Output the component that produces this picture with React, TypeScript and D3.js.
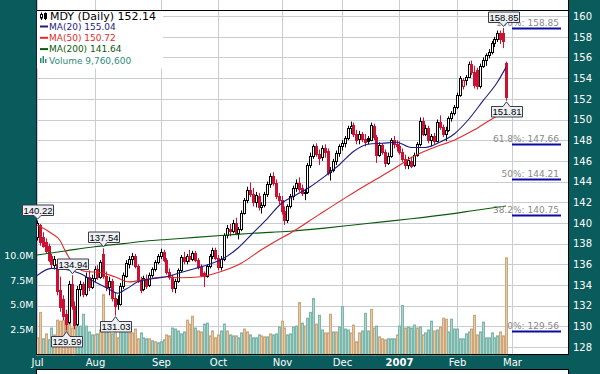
import React from "react";
import * as d3 from "d3";

// ---------- DATA ----------
// [open, high, low, close] per trading day
const julCandles = [
  [138.6, 140.22, 138.3, 140.0], [139.8, 139.9, 137.8, 138.2], [138.6, 139.1, 137.6, 137.8],
  [138.2, 138.5, 137.0, 137.3], [137.8, 138.0, 136.2, 136.4], [136.8, 137.0, 135.6, 136.0],
  [135.9, 136.8, 135.5, 136.5], [136.0, 136.2, 133.0, 133.4], [133.5, 134.8, 131.4, 131.9],
  [132.6, 133.0, 130.6, 131.0], [131.2, 131.6, 129.59, 130.2], [130.4, 134.4, 130.2, 134.1],
  [134.1, 134.94, 131.6, 132.0], [132.0, 132.4, 129.7, 130.1], [130.2, 133.9, 130.0, 133.6],
  [133.6, 134.4, 132.9, 134.1], [134.1, 134.3, 132.8, 133.1], [133.1, 135.2, 132.9, 134.8],
  [134.8, 135.4, 133.4, 133.8], [133.8, 135.0, 133.6, 134.7],
];
const augCandles = [
  [134.7, 135.8, 134.3, 135.5], [135.5, 135.9, 134.5, 134.8], [134.8, 136.4, 134.6, 136.2],
  [137.0, 137.54, 134.6, 134.9], [134.9, 135.3, 133.4, 133.8], [133.8, 134.8, 133.0, 134.4],
  [134.4, 134.6, 132.4, 132.7], [132.7, 133.3, 131.03, 132.0], [132.6, 133.0, 131.6, 132.2],
  [132.2, 134.2, 132.0, 133.9], [133.9, 135.2, 133.6, 135.0], [134.9, 136.4, 134.7, 136.1],
  [136.0, 136.8, 135.6, 136.5], [136.5, 137.1, 135.9, 136.8], [136.8, 137.0, 135.6, 135.8],
  [135.8, 136.0, 134.2, 134.5], [134.5, 134.8, 133.2, 133.5], [133.6, 134.9, 133.4, 134.7],
  [134.6, 135.0, 133.6, 133.9], [134.0, 135.2, 133.8, 135.0], [135.0, 135.7, 134.7, 135.5],
  [135.5, 136.4, 135.3, 136.2], [136.2, 137.0, 136.0, 136.8],
];
const sepCandles = [
  [136.8, 137.5, 136.5, 137.2], [137.2, 137.4, 136.2, 136.4], [136.4, 136.6, 135.0, 135.3],
  [135.3, 135.6, 134.5, 134.8], [134.8, 135.0, 133.3, 133.7], [133.7, 134.6, 133.2, 134.4],
  [134.4, 135.6, 134.2, 135.4], [135.4, 136.9, 135.2, 136.7], [136.7, 137.2, 136.0, 136.3],
  [136.3, 137.0, 136.0, 136.8], [136.8, 137.4, 136.2, 136.5], [136.5, 137.3, 136.3, 137.1],
  [137.1, 137.3, 136.2, 136.4], [136.4, 136.6, 135.5, 135.7], [135.7, 136.0, 134.8, 135.0],
  [135.2, 135.3, 133.8, 134.9], [134.9, 136.0, 134.7, 135.8], [135.8, 137.0, 135.6, 136.8],
  [136.8, 137.6, 136.5, 137.4], [137.4, 137.6, 136.4, 136.6],
];
const octCandles = [
  [136.6, 136.9, 135.4, 135.7], [135.7, 136.8, 135.4, 136.5], [136.5, 139.0, 136.3, 138.8],
  [138.8, 139.8, 138.5, 139.5], [139.4, 139.9, 138.7, 139.2], [139.2, 140.3, 139.0, 140.0],
  [140.0, 140.5, 138.8, 139.0], [139.0, 139.6, 138.4, 139.4], [139.4, 141.2, 139.2, 141.0],
  [141.0, 142.4, 140.8, 142.2], [142.2, 143.5, 141.9, 143.2], [143.2, 143.9, 142.5, 142.8],
  [142.8, 143.4, 141.6, 142.0], [142.0, 143.0, 141.5, 142.7], [142.6, 142.9, 141.2, 141.5],
  [141.5, 142.0, 140.9, 141.7], [141.7, 143.0, 141.5, 142.8], [142.8, 144.0, 142.5, 143.8],
  [143.8, 144.8, 143.4, 144.5], [144.5, 144.9, 143.6, 143.9], [143.9, 144.2, 142.3, 142.6],
  [142.6, 142.9, 141.8, 142.2],
];
const novCandles = [
  [142.2, 142.6, 140.8, 141.2], [141.2, 141.6, 139.8, 140.3], [140.3, 141.8, 140.0, 141.6],
  [141.6, 142.8, 141.4, 142.6], [142.6, 143.6, 142.2, 143.4], [143.4, 144.2, 143.0, 143.9],
  [143.9, 144.4, 143.0, 143.3], [143.4, 143.7, 142.6, 142.9], [142.9, 143.3, 142.2, 143.0],
  [143.0, 145.8, 142.8, 145.6], [145.6, 146.8, 145.3, 146.5], [146.5, 147.6, 146.2, 147.4],
  [147.4, 147.7, 146.4, 146.7], [146.7, 147.1, 145.6, 146.3], [146.4, 147.5, 146.0, 147.2],
  [147.2, 147.6, 146.3, 146.9], [147.0, 147.2, 144.6, 144.8], [144.9, 145.4, 144.1, 145.1],
  [145.1, 146.2, 144.9, 146.0], [146.0, 147.0, 145.6, 146.8], [146.8, 147.6, 146.4, 147.4],
];
const decCandles = [
  [147.4, 148.0, 147.0, 147.7], [147.7, 148.4, 147.3, 148.2], [148.2, 149.4, 148.0, 149.2],
  [149.2, 149.8, 148.6, 149.4], [149.5, 149.7, 148.3, 148.6], [148.6, 149.0, 147.6, 148.0],
  [148.1, 148.9, 147.6, 148.6], [148.6, 148.8, 147.8, 148.1], [148.1, 148.6, 147.4, 147.8],
  [148.2, 148.4, 147.6, 147.9], [148.0, 149.7, 147.9, 149.5], [149.4, 149.6, 148.0, 148.3],
  [148.3, 148.5, 145.8, 146.6], [146.6, 147.8, 146.4, 147.5], [147.5, 147.7, 146.6, 146.9],
  [146.9, 147.1, 145.4, 145.8], [145.8, 146.8, 145.6, 146.5], [146.5, 148.2, 146.3, 148.0],
  [148.0, 148.4, 147.2, 147.6], [147.6, 148.0, 146.9, 147.4],
];
const janCandles = [
  [147.4, 147.9, 146.6, 146.9], [146.9, 147.2, 145.9, 146.2], [146.2, 146.6, 145.2, 145.6],
  [145.6, 146.4, 145.2, 146.1], [146.0, 146.4, 145.3, 145.5], [145.6, 146.8, 145.4, 146.6],
  [146.6, 147.8, 146.4, 147.6], [147.6, 150.2, 147.4, 149.9], [149.9, 150.2, 148.4, 148.6],
  [148.6, 149.5, 148.4, 149.2], [149.2, 149.4, 147.7, 148.0], [148.0, 148.6, 147.4, 148.4],
  [148.4, 148.7, 147.6, 147.9], [147.9, 150.0, 147.8, 149.8], [149.8, 150.4, 149.0, 149.3],
  [149.3, 149.5, 148.3, 148.6], [148.6, 149.3, 147.9, 149.0], [149.0, 150.3, 148.8, 150.1],
  [150.1, 150.8, 149.8, 150.6], [150.6, 151.4, 150.4, 151.2],
];
const febCandles = [
  [151.2, 152.6, 151.0, 152.4], [152.4, 154.2, 152.2, 154.0], [153.2, 154.0, 152.9, 153.8],
  [153.8, 154.3, 153.3, 154.1], [154.1, 155.6, 154.0, 155.4], [155.4, 155.7, 154.3, 154.6],
  [154.6, 155.2, 153.0, 153.3], [154.8, 155.0, 152.9, 153.2], [153.2, 155.4, 153.0, 155.2],
  [155.2, 156.0, 155.0, 155.8], [155.8, 156.4, 155.2, 156.2], [156.2, 156.8, 155.9, 156.5],
  [156.5, 157.6, 156.3, 157.4], [157.4, 158.0, 157.0, 157.8], [157.8, 158.6, 157.5, 158.4],
  [158.4, 158.6, 157.3, 157.8], [158.4, 158.85, 156.9, 157.6], [155.5, 155.6, 151.81, 152.14],
];

// volume in millions, and bar colour (g = green, t = tan)
const julVol = [1.6, 4.2, 1.5, 2.0, 1.4, 2.6, 1.9, 3.4, 3.3, 3.4, 3.3, 3.2, 2.6, 3.6, 3.2, 2.8, 4.0, 2.8, 2.2, 1.9];
const julVolCol = "ttgtggttttttttgggggg";
const augVol = [1.9, 2.0, 2.4, 6.0, 2.5, 2.5, 2.0, 2.3, 1.6, 2.3, 2.4, 2.4, 2.1, 2.1, 2.5, 1.5, 2.1, 1.6, 1.5, 1.5, 1.3, 1.2, 1.1];
const augVolCol = "tgttgtgttgggttttgggtgtg";
const sepVol = [1.2, 1.4, 1.9, 1.8, 2.6, 2.5, 2.3, 2.0, 2.2, 3.4, 3.0, 3.8, 2.6, 2.3, 2.2, 3.0, 3.1, 1.8, 2.3, 1.6];
const sepVolCol = "ggttgggggtttgttggttt";
const octVol = [1.9, 2.3, 3.0, 2.3, 1.9, 1.8, 1.8, 1.6, 2.1, 2.5, 2.2, 1.9, 1.6, 1.6, 1.9, 1.8, 1.7, 1.7, 2.0, 1.9, 2.0, 2.7];
const octVolCol = "tggtggtggttggggttgtggg";
const novVol = [3.3, 2.6, 1.9, 2.0, 2.7, 2.8, 5.2, 3.1, 2.8, 3.6, 4.2, 5.6, 3.0, 3.9, 2.4, 2.1, 2.1, 4.0, 2.2, 2.2, 2.7];
const novVolCol = "ttggggtgtgggtggtttgtg";
const decVol = [4.8, 2.5, 2.4, 2.1, 2.9, 1.2, 2.1, 2.3, 4.1, 2.3, 4.5, 2.6, 2.8, 1.7, 1.5, 1.4, 1.5, 1.5, 1.5, 1.9];
const decVolCol = "gggttttgggttgtttgggt";
const janVol = [2.8, 4.9, 2.6, 2.7, 2.6, 2.9, 2.6, 2.7, 1.9, 2.1, 2.4, 3.3, 2.3, 2.4, 2.7, 3.6, 3.5, 2.2, 3.5, 2.5];
const janVolCol = "ggtgggtgtgggtgtttggg";
const febVol = [2.5, 1.5, 1.5, 2.0, 2.2, 2.5, 3.9, 1.9, 2.2, 3.2, 1.6, 1.6, 2.1, 1.6, 1.8, 2.2, 1.8, 9.76];
const febVolCol = "gggggtttgggggggttt";

// moving averages: [trading-day index, value]
const ma20Idx = [0, 5, 10, 15, 20, 25, 28, 31, 35, 40, 45, 50, 55, 60, 65, 70, 75, 80, 85, 90, 95, 100, 105, 110, 115, 120, 125, 130, 135, 140, 145, 150, 155, 160, 163];
const ma20Val = [134.9, 135.6, 135.5, 135.1, 134.3, 133.6, 133.2, 133.6, 134.3, 134.6, 134.8, 135.2, 135.6, 136.0, 136.6, 137.6, 139.0, 140.4, 141.9, 142.7, 143.5, 144.5, 145.6, 146.9, 147.6, 147.7, 147.8, 147.3, 147.3, 147.8, 148.6, 150.0, 151.8, 153.6, 155.04];
const ma50Idx = [0, 5, 8, 10, 13, 17, 22, 27, 32, 37, 45, 50, 57, 64, 71, 78, 84, 88, 98, 107, 114, 119, 125, 130, 138, 145, 152, 159, 163];
const ma50Val = [139.8, 139.0, 138.3, 137.2, 135.9, 135.3, 135.2, 134.8, 134.3, 134.5, 134.8, 134.7, 134.8, 135.3, 136.1, 137.4, 138.4, 139.0, 140.8, 142.4, 143.6, 144.4, 145.4, 146.3, 147.3, 148.0, 149.0, 150.2, 150.72];
const ma200Idx = [0, 10, 20, 30, 40, 45, 55, 65, 75, 88, 100, 110, 120, 130, 142, 152, 163];
const ma200Val = [136.9, 137.3, 137.7, 138.0, 138.3, 138.4, 138.6, 138.8, 139.0, 139.2, 139.5, 139.8, 140.1, 140.4, 140.8, 141.2, 141.64];

const monthLabels = ["Jul", "Aug", "Sep", "Oct", "Nov", "Dec", "2007", "Feb", "Mar"];
const monthStarts = [0, 20, 43, 63, 85, 106, 126, 146, 165];
const priceTicks = [128, 130, 132, 134, 136, 138, 140, 142, 144, 146, 148, 150, 152, 154, 156, 158, 160];
const volTicks = [2.5, 5, 7.5, 10];
const volTickLabels = ["2.5M", "5.0M", "7.5M", "10.0M"];

const fibLabels = ["100%", "61.8%", "50%", "38.2%", "0%"];
const fibValues = [158.85, 147.66, 144.21, 140.75, 129.56];

// callouts: day index, value, direction (down = points at a high, up = points at a low)
const calloutIdx = [0, 12, 10, 23, 27, 162, 163];
const calloutVal = [140.22, 134.94, 129.59, 137.54, 131.03, 158.85, 151.81];
const calloutDir = ["down", "down", "up", "down", "up", "down", "up"];

const legendTexts = ["MDY (Daily) 152.14", "MA(20) 155.04", "MA(50) 150.72", "MA(200) 141.64", "Volume 9,760,600"];

// ---------- STYLE ----------
const TEAL = "#0a5c5c";
const RED = "#cc1133";
const GRID = "#c9ccd6";
const C_MA20 = "#1c1c80";
const C_MA50 = "#e02a2a";
const C_MA200 = "#0a5a0a";
const C_VOLTXT = "#2f8a7a";
const FONT = "DejaVu Sans, Verdana, sans-serif";

export default function App() {
  const candles = [...julCandles, ...augCandles, ...sepCandles, ...octCandles, ...novCandles, ...decCandles, ...janCandles, ...febCandles];
  const volumes = [...julVol, ...augVol, ...sepVol, ...octVol, ...novVol, ...decVol, ...janVol, ...febVol];
  const volCols = (julVolCol + augVolCol + sepVolCol + octVolCol + novVolCol + decVolCol + janVolCol + febVolCol).split("");

  const x = d3.scaleLinear().domain([0, 165]).range([37, 511.7]);
  const y = d3.scaleLinear().domain([128, 160]).range([347, 16.1]);
  const yv = d3.scaleLinear().domain([0, 10]).range([353.5, 255.5]);
  const px = (i: number) => Math.round(x(i));

  const L = 36.5, R = 568.5, B = 355;

  const mkLine = (idx: number[], vals: number[]) =>
    d3.line<[number, number]>()
      .x((d) => x(d[0]))
      .y((d) => y(d[1]))
      .curve(d3.curveMonotoneX)(idx.map((k, j) => [k, vals[j]] as [number, number])) || "";

  const callout = (k: number) => {
    const i = calloutIdx[k];
    const v = calloutVal[k];
    const cx = px(i) + 0.5;
    const w = 31, h = 10.5;
    const l = Math.round(cx - w / 2) + 0.5, r = l + w;
    const yy = y(v);
    let path: string, ty: number;
    if (calloutDir[k] === "down") {
      const b = Math.round(yy - 6) + 0.5, t = b - h, tip = yy - 1.5;
      path = `M${l},${t}H${r}V${b}H${cx + 3.5}L${cx},${tip}L${cx - 3.5},${b}H${l}Z`;
      ty = b - 2;
    } else {
      const t = Math.round(yy + 5.5) + 0.5, b = t + h, tip = yy + 1;
      path = `M${l},${t}H${cx - 3.5}L${cx},${tip}L${cx + 3.5},${t}H${r}V${b}H${l}Z`;
      ty = b - 2;
    }
    return (
      <g key={"co" + k}>
        <path d={path} fill="#edf1f5" stroke="#3a3a4a" strokeWidth={1} />
        <text x={(l + r) / 2} y={ty} textAnchor="middle" fontFamily="Liberation Sans, Arial, sans-serif" fontSize={9.5} fill="#000">
          {v.toFixed(2)}
        </text>
      </g>
    );
  };

  return (
    <div style={{ position: "absolute", left: 0, top: 0 }}>
      <svg width={600} height={374} style={{ display: "block" }}>
        <rect x={0} y={0} width={600} height={374} fill={TEAL} />
        {/* main plot area */}
        <rect x={L} y={0} width={R - L} height={B} fill="#fff" />
        {/* bottom next-panel strip */}
        <rect x={L} y={369.5} width={R - L} height={10} fill="#fff" stroke="#000" strokeWidth={1} />

        {/* grid */}
        {priceTicks.map((p) => (
          <line key={"hg" + p} x1={L} x2={R} y1={Math.round(y(p)) + 0.5} y2={Math.round(y(p)) + 0.5} stroke={GRID} strokeWidth={1} />
        ))}
        {monthStarts.map((m) => (
          <line key={"vg" + m} x1={px(m) + 0.5} x2={px(m) + 0.5} y1={0} y2={B} stroke={GRID} strokeWidth={1} />
        ))}

        {/* volume */}
        {volumes.map((v, i) => {
          const cx = px(i);
          const top = yv(v);
          const g = volCols[i] === "g";
          return (
            <rect key={"v" + i} x={cx - 0.5} y={top} width={2} height={yv(0) - top + 1.5}
              fill={g ? "#a9d6cc" : "#e6cba6"} stroke={g ? "#7db6aa" : "#cda67c"} strokeWidth={1} />
          );
        })}

        {/* candles */}
        {candles.map((c, i) => {
          const [o, h, l, cl] = c;
          const prev = i > 0 ? candles[i - 1][3] : -Infinity;
          const col = cl >= prev ? "#000" : RED;
          const filled = cl < o;
          const cx = px(i);
          const top = Math.round(y(Math.max(o, cl)));
          const bot = Math.round(y(Math.min(o, cl)));
          const bh = Math.max(1, bot - top);
          return (
            <g key={"c" + i}>
              <line x1={cx + 0.5} x2={cx + 0.5} y1={y(h)} y2={y(l)} stroke={col} strokeWidth={1} />
              <rect x={cx - 0.5} y={top + 0.5} width={2} height={bh} fill={filled ? col : "#fff"} stroke={col} strokeWidth={1} />
            </g>
          );
        })}

        {/* moving averages */}
        <path d={mkLine(ma200Idx, ma200Val)} fill="none" stroke={C_MA200} strokeWidth={1.1} />
        <path d={mkLine(ma50Idx, ma50Val)} fill="none" stroke={C_MA50} strokeWidth={1.1} />
        <path d={mkLine(ma20Idx, ma20Val)} fill="none" stroke={C_MA20} strokeWidth={1.1} />

        {/* fibonacci retracement */}
        {fibValues.map((v, k) => {
          const yy = Math.round(y(v));
          return (
            <g key={"fib" + k}>
              <text x={559} y={yy - 2.5} textAnchor="end" fontFamily={FONT} fontSize={9} fill="#8a8a8a">
                {fibLabels[k] + ": " + v.toFixed(2)}
              </text>
              <line x1={512} x2={561} y1={yy + 0.5} y2={yy + 0.5} stroke="#0a0aa8" strokeWidth={2.2} />
            </g>
          );
        })}

        {/* legend */}
        <rect x={37} y={10.5} width={126} height={58} fill="#fff" />
        <g>
          <line x1={41.5} x2={41.5} y1={12.5} y2={20} stroke="#000" />
          <rect x={40.5} y={14.5} width={2} height={3.5} fill="#fff" stroke="#000" />
          <line x1={45.5} x2={45.5} y1={12.5} y2={20} stroke="#000" />
          <rect x={44.5} y={13.5} width={2} height={5} fill="#000" stroke="#000" />
          <text x={50} y={19.5} fontFamily={FONT} fontSize={11} fill="#000">{legendTexts[0]}</text>
          <line x1={40} x2={48} y1={26.5} y2={26.5} stroke={C_MA20} strokeWidth={2} />
          <text x={49} y={29.8} fontFamily={FONT} fontSize={9} fill={C_MA20}>{legendTexts[1]}</text>
          <line x1={40} x2={48} y1={37.8} y2={37.8} stroke={C_MA50} strokeWidth={2} />
          <text x={49} y={41.1} fontFamily={FONT} fontSize={9} fill={C_MA50}>{legendTexts[2]}</text>
          <line x1={40} x2={48} y1={49.1} y2={49.1} stroke={C_MA200} strokeWidth={2} />
          <text x={49} y={52.4} fontFamily={FONT} fontSize={9} fill={C_MA200}>{legendTexts[3]}</text>
          <rect x={40} y={58} width={1.5} height={5} fill={C_VOLTXT} />
          <rect x={42.5} y={56} width={1.5} height={7} fill={C_VOLTXT} />
          <rect x={45} y={59} width={1.5} height={4} fill={C_VOLTXT} />
          <text x={49} y={63.7} fontFamily={FONT} fontSize={9} fill={C_VOLTXT}>{legendTexts[4]}</text>
        </g>

        {/* frame */}
        <line x1={L} x2={R} y1={10.5} y2={10.5} stroke="#000" strokeWidth={1} />
        <line x1={L} x2={L} y1={0} y2={B} stroke="#1a1a40" strokeWidth={1} />
        <line x1={R} x2={R} y1={0} y2={B} stroke="#000" strokeWidth={1} />
        <line x1={L} x2={R} y1={B - 0.5} y2={B - 0.5} stroke="#000" strokeWidth={1} />

        {/* right price axis */}
        {priceTicks.map((p) => (
          <text key={"pt" + p} x={573} y={y(p) + 3.8} fontFamily={FONT} fontSize={10} fill="#fff">{p}</text>
        ))}
        {/* left volume axis */}
        {volTicks.map((v, k) => (
          <text key={"vt" + v} x={33.5} y={yv(v) + 3.8} textAnchor="end" fontFamily={FONT} fontSize={9.5} fill="#fff">{volTickLabels[k]}</text>
        ))}
        {/* x axis */}
        {monthStarts.map((m, k) => (
          <text key={"mt" + k} x={px(m) + 0.5} y={366} textAnchor="middle" fontFamily={FONT} fontSize={10}
            fontWeight={monthLabels[k] === "2007" ? "bold" : "normal"} fill="#fff">{monthLabels[k]}</text>
        ))}

        {/* callouts */}
        {calloutIdx.map((_, k) => callout(k))}
      </svg>
    </div>
  );
}
